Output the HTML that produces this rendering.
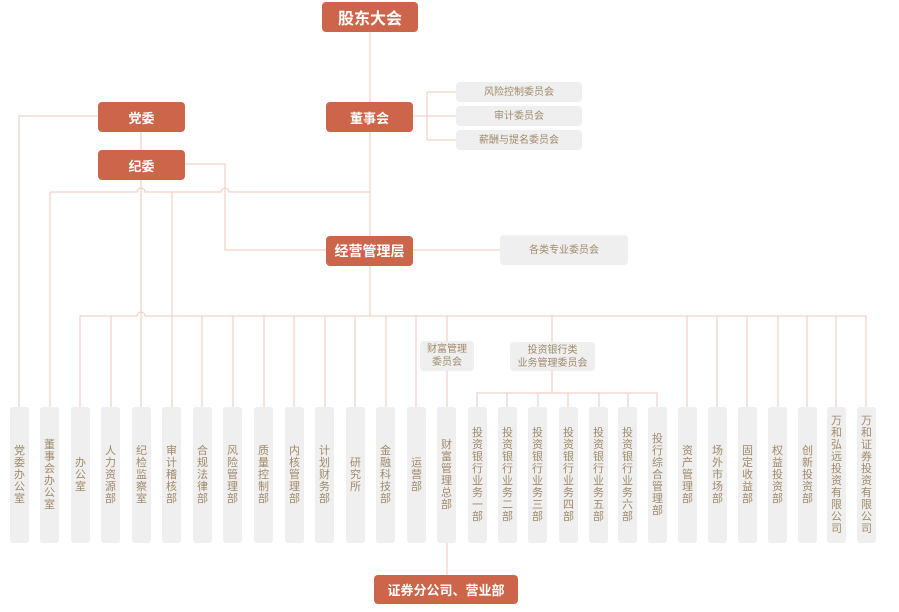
<!DOCTYPE html>
<html><head><meta charset="utf-8"><style>
body{margin:0;width:899px;height:612px;background:#fff;position:relative;overflow:hidden;font-family:"Liberation Sans","Noto Sans CJK SC",sans-serif}
.o{position:absolute;background:#cc6549;color:#fff;border-radius:4px;display:flex;align-items:center;justify-content:center;font-size:13px;font-weight:bold}
.g{position:absolute;background:#efefef;color:#a08a6a;border-radius:4px;display:flex;align-items:center;justify-content:center;font-size:10px;text-align:center;line-height:13px}
.v{position:absolute;top:407px;height:136px;width:19px;background:#efefef;border-radius:3px;display:flex;align-items:center;justify-content:center;color:#a08a6a;font-size:11px;line-height:12px;text-align:center}
svg{position:absolute;left:0;top:0}
</style></head><body>
<svg width="899" height="612" fill="none" stroke="#f2c7ba" stroke-width="1">
<path d="M370 32V316"/>
<path d="M413 116H427M427 92V140M427 92H456M427 116H456M427 140H456"/>
<path d="M413 250H500"/>
<path d="M98 116H19V407"/>
<path d="M141 132V150M141 180V407"/>
<path d="M185 164H225V250H326"/>
<path d="M50 407V192H137a4 4 0 0 1 8 0H221a4 4 0 0 1 8 0H370"/>
<path d="M172 192V407"/>
<path d="M80 407V316H137a4 4 0 0 1 8 0H866V407"/>
<path d="M111 316V407M202 316V407M233 316V407M264 316V407M294 316V407M325 316V407M355 316V407M386 316V407M416 316V407"/>
<path d="M447 316V341M447 371V407M447 543V576"/>
<path d="M552 316V342M552 371V393M477 407V393H657V407M507 393V407M538 393V407M568 393V407M599 393V407M628 393V407"/>
<path d="M687 316V407M717 316V407M747 316V407M778 316V407M807 316V407M836 316V407"/>
</svg>
<div class="o" style="left:322px;top:2px;width:96px;height:30px;font-size:16px">股东大会</div>
<div class="o" style="left:98px;top:102px;width:87px;height:30px">党委</div>
<div class="o" style="left:98px;top:150px;width:87px;height:30px">纪委</div>
<div class="o" style="left:326px;top:102px;width:87px;height:30px">董事会</div>
<div class="o" style="left:326px;top:236px;width:87px;height:30px;font-size:14px">经营管理层</div>
<div class="o" style="left:374px;top:575px;width:144px;height:29px">证券分公司、营业部</div>
<div class="g" style="left:456px;top:82px;width:126px;height:20px">风险控制委员会</div>
<div class="g" style="left:456px;top:106px;width:126px;height:20px">审计委员会</div>
<div class="g" style="left:456px;top:130px;width:126px;height:20px">薪酬与提名委员会</div>
<div class="g" style="left:500px;top:235px;width:128px;height:30px">各类专业委员会</div>
<div class="g" style="left:420px;top:341px;width:54px;height:30px">财富管理<br>委员会</div>
<div class="g" style="left:510px;top:342px;width:85px;height:29px">投资银行类<br>业务管理委员会</div>
<div class="v" style="left:10px">党<br>委<br>办<br>公<br>室</div>
<div class="v" style="left:40px">董<br>事<br>会<br>办<br>公<br>室</div>
<div class="v" style="left:71px">办<br>公<br>室</div>
<div class="v" style="left:101px">人<br>力<br>资<br>源<br>部</div>
<div class="v" style="left:132px">纪<br>检<br>监<br>察<br>室</div>
<div class="v" style="left:162px">审<br>计<br>稽<br>核<br>部</div>
<div class="v" style="left:193px">合<br>规<br>法<br>律<br>部</div>
<div class="v" style="left:223px">风<br>险<br>管<br>理<br>部</div>
<div class="v" style="left:254px">质<br>量<br>控<br>制<br>部</div>
<div class="v" style="left:285px">内<br>核<br>管<br>理<br>部</div>
<div class="v" style="left:315px">计<br>划<br>财<br>务<br>部</div>
<div class="v" style="left:346px">研<br>究<br>所</div>
<div class="v" style="left:376px">金<br>融<br>科<br>技<br>部</div>
<div class="v" style="left:407px">运<br>营<br>部</div>
<div class="v" style="left:437px">财<br>富<br>管<br>理<br>总<br>部</div>
<div class="v" style="left:468px">投<br>资<br>银<br>行<br>业<br>务<br>一<br>部</div>
<div class="v" style="left:498px">投<br>资<br>银<br>行<br>业<br>务<br>二<br>部</div>
<div class="v" style="left:528px">投<br>资<br>银<br>行<br>业<br>务<br>三<br>部</div>
<div class="v" style="left:559px">投<br>资<br>银<br>行<br>业<br>务<br>四<br>部</div>
<div class="v" style="left:589px">投<br>资<br>银<br>行<br>业<br>务<br>五<br>部</div>
<div class="v" style="left:618px">投<br>资<br>银<br>行<br>业<br>务<br>六<br>部</div>
<div class="v" style="left:648px">投<br>行<br>综<br>合<br>管<br>理<br>部</div>
<div class="v" style="left:678px">资<br>产<br>管<br>理<br>部</div>
<div class="v" style="left:708px">场<br>外<br>市<br>场<br>部</div>
<div class="v" style="left:738px">固<br>定<br>收<br>益<br>部</div>
<div class="v" style="left:768px">权<br>益<br>投<br>资<br>部</div>
<div class="v" style="left:798px">创<br>新<br>投<br>资<br>部</div>
<div class="v" style="left:827px">万<br>和<br>弘<br>远<br>投<br>资<br>有<br>限<br>公<br>司</div>
<div class="v" style="left:857px">万<br>和<br>证<br>券<br>投<br>资<br>有<br>限<br>公<br>司</div>
</body></html>
